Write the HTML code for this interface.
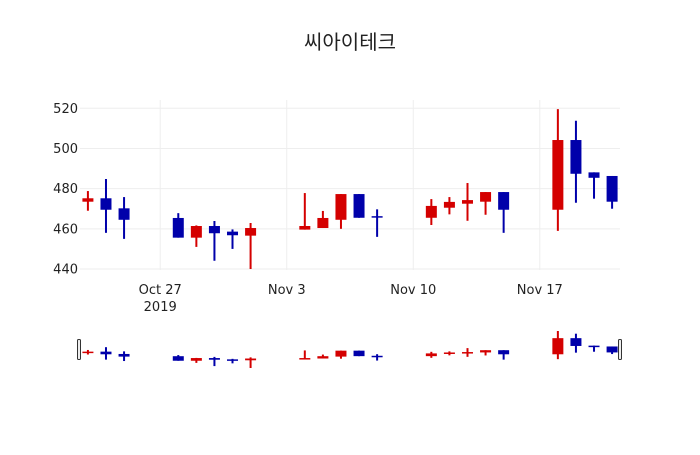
<!DOCTYPE html>
<html><head><meta charset="utf-8"><style>
html,body{margin:0;padding:0;background:#fff}
svg text{font-family:"DejaVu Sans","Noto Sans CJK KR",sans-serif;fill:#222}
</style></head><body>
<svg id="chart" width="700" height="450" xmlns="http://www.w3.org/2000/svg">
<text x="350" y="49" text-anchor="middle" font-size="20" font-family="Noto Sans CJK KR, sans-serif">씨아이테크</text>
<g id="grid"></g>
<g id="candles"></g>
<g id="yticks"></g>
<g id="xticks"></g>
<g id="slider"></g>
</svg>
<script>
const dates=["2019-10-23","2019-10-24","2019-10-25","2019-10-28","2019-10-29","2019-10-30","2019-10-31","2019-11-01","2019-11-04","2019-11-05","2019-11-06","2019-11-07","2019-11-08","2019-11-11","2019-11-12","2019-11-13","2019-11-14","2019-11-15","2019-11-18","2019-11-19","2019-11-20","2019-11-21"];
const opens=[473.5,475.2,470.2,465.4,455.6,461.4,458.6,456.6,459.6,460.4,464.5,477.3,466.3,465.5,470.5,472.5,473.5,478.3,469.5,504.2,488.1,486.3];
const highs=[478.8,484.8,475.8,467.8,461.7,463.9,459.7,462.9,477.8,468.9,477.3,477.3,469.7,474.8,475.8,482.8,478.3,478.3,519.6,513.8,488.1,486.3];
const lows=[469,458,455,455.6,451,444.1,450,440,459.6,460.4,460,465.5,456,461.9,467.2,464,467,458,459,473,475,470];
const closes=[475.2,469.5,464.5,455.6,461.4,457.8,456.8,460.4,461.4,465.4,477.3,465.5,465.8,471.4,473.4,474.3,478.3,469.5,504.2,487.4,485.4,473.5];
const yTicks=[440,460,480,500,520];
const xTickDates=["2019-10-27","2019-11-03","2019-11-10","2019-11-17"];
const xTickLabels=["Oct 27","Nov 3","Nov 10","Nov 17"];
const NS="http://www.w3.org/2000/svg";
const t0=Date.parse("2019-10-22T13:30:00Z"), t1=Date.parse("2019-11-21T10:30:00Z");
const L=80,R=620,T=100,B=270;
const x=d=>L+(Date.parse(d+"T00:00:00Z")-t0)/(t1-t0)*(R-L);
const y=v=>269-(v-440)*2.009;
const sy=v=>368-(v-440)/(519.6-440)*37;
function el(tag,attrs,parent){const e=document.createElementNS(NS,tag);for(const k in attrs)e.setAttribute(k,attrs[k]);parent.appendChild(e);return e;}
const grid=document.getElementById('grid'),yt=document.getElementById('yticks'),xt=document.getElementById('xticks'),cg=document.getElementById('candles'),sl=document.getElementById('slider');
yTicks.forEach(v=>{
  const g=el('line',{x1:L,x2:R,y1:y(v),y2:y(v),stroke:'#eee','stroke-width':1},grid);
  
  
  const t=el('text',{x:L-2,y:y(v)+4.5,'text-anchor':'end','font-size':13},yt);
  
  
  t.textContent=v;
});
xTickDates.forEach((d,i)=>{
  const g=el('line',{x1:x(d),x2:x(d),y1:T,y2:B,stroke:'#eee','stroke-width':1},grid);
  
  
  const t=el('text',{x:x(d),y:294,'text-anchor':'middle','font-size':13},xt);
  
  
  t.textContent=xTickLabels[i];
  if(i===0){const t2=el('text',{x:x(d),y:311,'text-anchor':'middle','font-size':13},xt);
  
  
  t2.textContent="2019";}
});
function drawCandle(parent,i,yf,bw,ww,name){
  const up=closes[i]>=opens[i];const c=up?'#d40000':'#0000aa';
  const cx=x(dates[i]);
  const g=el('g',{},parent);
  
  
  el('line',{x1:cx,x2:cx,y1:yf(highs[i]),y2:yf(lows[i]),stroke:c,'stroke-width':ww},g);
  const top=yf(Math.max(opens[i],closes[i])),bot=yf(Math.min(opens[i],closes[i]));
  el('rect',{x:cx-bw/2,y:top,width:bw,height:Math.max(bot-top,1.5),fill:c},g);
}
dates.forEach((d,i)=>drawCandle(cg,i,y,11,2,'candle'));
dates.forEach((d,i)=>drawCandle(sl,i,sy,11,2,'slider-candle'));
[[77,'range-handle-left'],[618,'range-handle-right']].forEach(h=>{
  const r=el('rect',{x:h[0]+0.5,y:339.5,width:3,height:20,rx:1,fill:'#eee',stroke:'#333','stroke-width':1},sl);
  
  
});
</script>
</body></html>
